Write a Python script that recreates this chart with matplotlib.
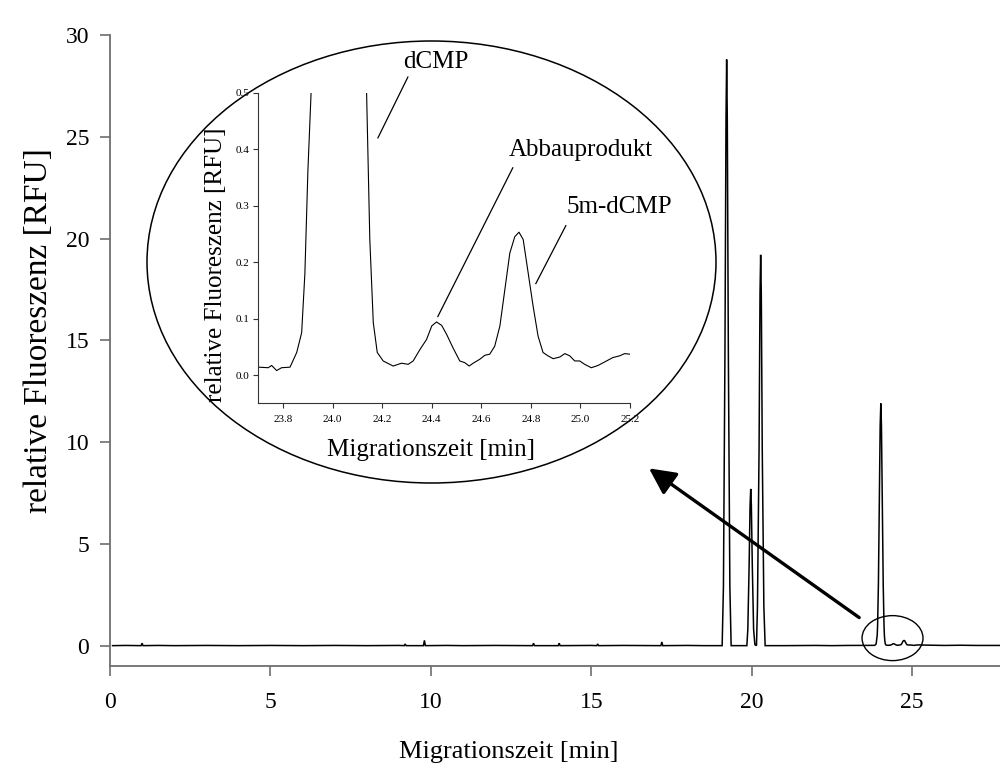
import numpy as np
import matplotlib
matplotlib.use("Agg")
import matplotlib.pyplot as plt
from matplotlib.patches import Ellipse
from matplotlib.lines import Line2D

plt.rcParams['font.family'] = ['Liberation Serif', 'DejaVu Serif']

# Electropherogram, migration time [min] vs. relative fluorescence [RFU]
early_t = [0.08, 0.5, 0.97, 1.0, 1.03, 1.5, 2.0, 3.0, 4.0, 5.0, 6.0, 7.0, 8.0, 9.0,
           9.17, 9.2, 9.23, 9.5, 9.77, 9.8, 9.83, 10.5, 11.0, 12.0, 13.0, 13.17, 13.2,
           13.23, 13.97, 14.0, 14.03, 15.0, 15.17, 15.2, 15.23, 16.0, 17.0, 17.17, 17.2,
           17.23, 18.0, 18.5, 19.0]
early_rfu = [0.0, 0.01, 0.0, 0.12, 0.0, 0.01, 0.0, 0.01, 0.0, 0.01, 0.0, 0.01, 0.0, 0.01,
             0.0, 0.08, 0.0, 0.0, 0.0, 0.26, 0.0, 0.01, 0.0, 0.01, 0.0, 0.0, 0.12,
             0.0, 0.0, 0.12, 0.0, 0.01, 0.0, 0.08, 0.0, 0.01, 0.0, 0.0, 0.18,
             0.0, 0.01, 0.0, 0.0]

cluster_t = [19.08, 19.12, 19.167, 19.20, 19.22, 19.24, 19.273, 19.32, 19.36,
             19.85, 19.88, 19.92, 19.95, 19.97, 19.99, 20.02, 20.06, 20.10,
             20.15, 20.18, 20.23, 20.26, 20.28, 20.30, 20.33, 20.38, 20.42, 20.7]
cluster_rfu = [0.0, 2.9, 14.4, 25.9, 28.8, 25.9, 14.4, 2.9, 0.0,
               0.0, 0.8, 3.9, 6.9, 7.7, 6.9, 3.9, 0.8, 0.05,
               0.0, 1.9, 9.6, 17.3, 19.2, 17.3, 9.6, 1.9, 0.0, 0.0]

late_t = [21.0, 22.0, 22.5, 23.0, 23.5, 23.70, 23.74, 23.754, 23.774, 23.794, 23.828,
          23.855, 23.875, 23.888, 23.90, 23.913, 23.925, 23.95, 23.98, 24.005, 24.025,
          24.045, 24.07, 24.10, 24.125, 24.137, 24.150, 24.164, 24.18, 24.204, 24.244,
          24.278, 24.305, 24.325, 24.352, 24.379, 24.40, 24.419, 24.44, 24.46, 24.486,
          24.513, 24.533, 24.551, 24.567, 24.594, 24.614, 24.634, 24.654, 24.675,
          24.695, 24.715, 24.735, 24.752, 24.769, 24.789, 24.809, 24.829, 24.849,
          24.869, 24.89, 24.917, 24.937, 24.957, 24.977, 24.997, 25.017, 25.044,
          25.071, 25.105, 25.131, 25.158, 25.178, 25.199, 25.3, 25.6, 26.0, 26.5,
          27.0, 27.74]
late_rfu = [0.0, 0.01, 0.0, 0.01, 0.012, 0.014, 0.013, 0.017, 0.008, 0.013, 0.014,
            0.04, 0.075, 0.18, 0.36, 0.5, 1.0, 3.0, 7.2, 10.8, 11.9,
            10.8, 7.2, 3.0, 1.0, 0.5, 0.24, 0.093, 0.04, 0.025, 0.016,
            0.021, 0.019, 0.025, 0.045, 0.063, 0.087, 0.094, 0.088, 0.072, 0.048,
            0.025, 0.022, 0.016, 0.021, 0.028, 0.035, 0.037, 0.051, 0.087,
            0.151, 0.216, 0.245, 0.253, 0.24, 0.181, 0.122, 0.069, 0.04,
            0.034, 0.029, 0.032, 0.038, 0.034, 0.025, 0.025, 0.019, 0.013,
            0.017, 0.025, 0.031, 0.034, 0.038, 0.037, 0.03, 0.02, 0.01, 0.02,
            0.01, 0.01]

main_xticks = [0, 5, 10, 15, 20, 25]
main_yticks = [0, 5, 10, 15, 20, 25, 30]
inset_xticks = [23.8, 24.0, 24.2, 24.4, 24.6, 24.8, 25.0, 25.2]
inset_yticks = [0.0, 0.1, 0.2, 0.3, 0.4, 0.5]

t = np.array(early_t + cluster_t + late_t)
rfu = np.array(early_rfu + cluster_rfu + late_rfu)

W, H = 1000, 769
fig = plt.figure(figsize=(W / 100, H / 100), dpi=100)

def fx(px):
    return px / W

def fy(py):
    return 1 - py / H

axis_grey = '#6e6e6e'

# ---- main electropherogram ----
ax = fig.add_axes([fx(110), fy(666), fx(890), (666 - 35) / H])
ax.plot(t, rfu, color='black', lw=1.1, solid_joinstyle='miter')
ax.set_xlim(0, 27.74)
ax.set_ylim(-1, 30)
for side in ('top', 'right'):
    ax.spines[side].set_visible(False)
for side in ('left', 'bottom'):
    ax.spines[side].set_color(axis_grey)
    ax.spines[side].set_linewidth(1.3)
ax.set_xticks(main_xticks)
ax.set_yticks(main_yticks)
ax.tick_params(direction='out', length=7, width=1.2, color=axis_grey, labelsize=17)
ax.tick_params(axis='x', pad=12)
ax.tick_params(axis='y', pad=8)
ax.set_xlabel('Migrationszeit [min]', fontsize=19)
ax.xaxis.set_label_coords(0.448, -0.119)
ax.set_ylabel('relative Fluoreszenz [RFU]', fontsize=24)
ax.yaxis.set_label_coords(-0.063, 0.531)

# marker around the dCMP region and pointer to the enlarged view
ax.add_patch(Ellipse((24.39, 0.37), 1.9, 2.21, fill=False, lw=1.0,
                     color='black', clip_on=False))
ax.annotate('', xy=(16.80, 8.71), xytext=(23.35, 1.38),
            arrowprops=dict(arrowstyle='-|>,head_length=0.8,head_width=0.4',
                            lw=2.4, color='black', mutation_scale=20,
                            shrinkA=0, shrinkB=0))

# enlarged view frame
fig.add_artist(Ellipse((fx(431.5), fy(262)), fx(569), 442 / H, fill=False,
                       lw=1.1, color='black', transform=fig.transFigure))

# ---- enlarged view ----
axi = fig.add_axes([fx(258.3), fy(403.3), fx(371.7), (403.3 - 92.7) / H])
axi.patch.set_alpha(0)
axi.plot(t, rfu, color='black', lw=0.8)
axi.set_xlim(23.7, 25.2)
axi.set_ylim(-0.05, 0.5)
for side in ('top', 'right'):
    axi.spines[side].set_visible(False)
for side in ('left', 'bottom'):
    axi.spines[side].set_color('#333333')
    axi.spines[side].set_linewidth(0.8)
axi.set_xticks(inset_xticks)
axi.set_xticklabels([f'{v:.1f}' for v in inset_xticks])
axi.set_yticks(inset_yticks)
axi.set_yticklabels([f'{v:.1f}' for v in inset_yticks])
axi.tick_params(direction='out', length=3.6, width=0.8, color='#333333', labelsize=8)
axi.tick_params(axis='x', pad=5)
axi.tick_params(axis='y', pad=2.5)
axi.set_xlabel('Migrationszeit [min]', fontsize=18)
axi.xaxis.set_label_coords(0.4646, -0.114)
axi.set_ylabel('relative Fluoreszenz [RFU]', fontsize=18)
axi.yaxis.set_label_coords(-0.083, 0.445)

labels = [('dCMP', 24.2835, 0.554, (24.3036, 0.5277), (24.1827, 0.42)),
          ('Abbauprodukt', 24.711, 0.398, (24.727, 0.367), (24.4246, 0.1037)),
          ('5m-dCMP', 24.945, 0.297, (24.941, 0.2645), (24.82, 0.162))]
for text, tx, ty, p0, p1 in labels:
    axi.text(tx, ty, text, fontsize=18, ha='left', va='center', clip_on=False)
    axi.add_line(Line2D([p0[0], p1[0]], [p0[1], p1[1]], color='black', lw=0.9,
                        clip_on=False))

fig.savefig('out.png', dpi=100)
